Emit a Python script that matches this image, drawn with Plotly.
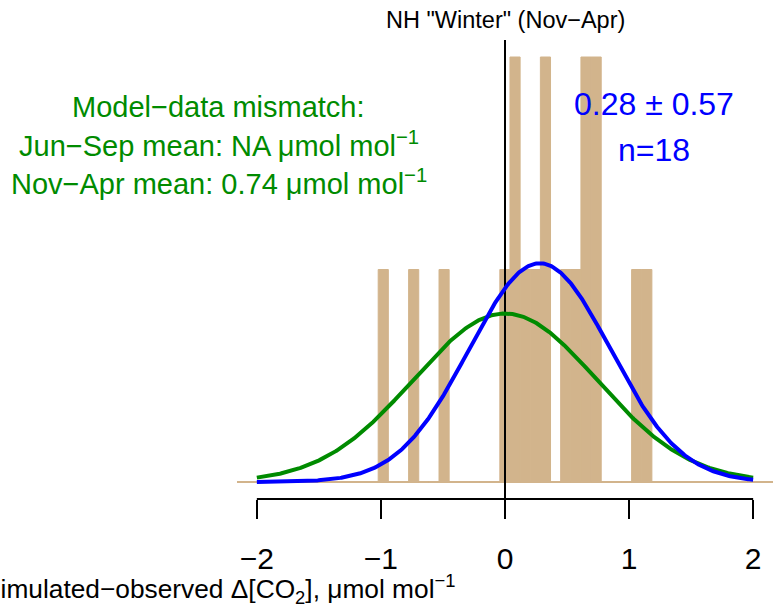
import numpy as np
import plotly.graph_objects as go

# ---------------- data ----------------
bin_start = -1.022          # left edge of first histogram bin
bin_width = 0.0817          # histogram bin width
counts = [1, 0, 0, 1, 0, 0, 1, 0, 0, 0, 0, 0, 1, 2, 1, 1, 2, 0, 1, 1, 2, 2, 0, 0, 0, 1, 1]
n_obs = 18

obs_mean = 0.28             # blue fitted normal
obs_sd = 0.57
mismatch_mean = 0.0         # green model-data mismatch normal
mismatch_sd = 0.74

x_ticks = [-2, -1, 0, 1, 2]

title_text = 'NH "Winter" (Nov\u2212Apr)'
xlab = 'Simulated\u2212observed \u0394[CO<sub>2</sub>], \u03bcmol mol<sup>\u22121</sup>'
green_lines = ['Model\u2212data mismatch:',
               'Jun\u2212Sep mean: NA \u03bcmol mol<sup>\u22121</sup>',
               'Nov\u2212Apr mean: 0.74 \u03bcmol mol<sup>\u22121</sup>']
blue_lines = ['0.28 \u00b1 0.57', 'n=18']

# ---------------- layout constants ----------------
W, H = 773, 607
ML, MR, MT, MB = 237, 0, 40, 108
PW, PH = W - ML - MR, H - MT - MB
FONT = 'Liberation Sans, Arial, sans-serif'
TAN = '#D2B48C'
GREEN = '#008B00'
BLUE = '#0000FF'


def px(xp):
    return (xp - ML) / PW


def py(yp):
    return (H - MB - yp) / PH


# derived
counts = np.array(counts, dtype=float)
centers = bin_start + bin_width * (np.arange(len(counts)) + 0.5)
density = counts / (n_obs * bin_width)
ymax = density.max()
xpad = (max(x_ticks) - min(x_ticks)) * 0.04
ypad = ymax * 0.04

xs = np.linspace(min(x_ticks), max(x_ticks), 500)


def dnorm(x, m, s):
    return np.exp(-0.5 * ((x - m) / s) ** 2) / (s * np.sqrt(2 * np.pi))


fig = go.Figure()
fig.add_trace(go.Bar(x=centers, y=density, width=bin_width,
                     marker=dict(color=TAN, line=dict(color=TAN, width=1)),
                     hoverinfo='skip'))
fig.add_trace(go.Scatter(x=[0, 0], y=[-ypad, ymax + ypad], mode='lines',
                         line=dict(color='black', width=2), hoverinfo='skip'))
fig.add_trace(go.Scatter(x=xs, y=dnorm(xs, mismatch_mean, mismatch_sd), mode='lines',
                         line=dict(color=GREEN, width=4), hoverinfo='skip'))
fig.add_trace(go.Scatter(x=xs, y=dnorm(xs, obs_mean, obs_sd), mode='lines',
                         line=dict(color=BLUE, width=4), hoverinfo='skip'))

shapes = [
    dict(type='line', xref='paper', yref='y', x0=0, x1=1, y0=0, y1=0,
         line=dict(color=TAN, width=2), layer='below'),
    dict(type='line', xref='x', yref='paper', x0=min(x_ticks), x1=max(x_ticks), y0=0, y1=0,
         line=dict(color='black', width=2)),
]

annotations = []
annotations.append(dict(text=title_text, xref='paper', yref='paper', x=px(505.5), y=py(19.5),
                        xanchor='center', yanchor='middle', showarrow=False,
                        font=dict(family=FONT, size=23.5, color='black')))
for t, yy in zip(green_lines, [107, 144, 182]):
    annotations.append(dict(text=t, xref='paper', yref='paper', x=px(218.5), y=py(yy),
                            xanchor='center', yanchor='middle', showarrow=False,
                            font=dict(family=FONT, size=29, color=GREEN)))
for t, yy in zip(blue_lines, [104, 150]):
    annotations.append(dict(text=t, xref='paper', yref='paper', x=px(653.5), y=py(yy),
                            xanchor='center', yanchor='middle', showarrow=False,
                            font=dict(family=FONT, size=32, color=BLUE)))
annotations.append(dict(text=xlab, xref='paper', yref='paper', x=px(457), y=py(589),
                        xanchor='right', yanchor='middle', showarrow=False,
                        font=dict(family=FONT, size=26.3, color='black')))

fig.update_layout(
    width=W, height=H,
    margin=dict(l=ML, r=MR, t=MT, b=MB, pad=0),
    paper_bgcolor='white', plot_bgcolor='white',
    showlegend=False,
    xaxis=dict(range=[min(x_ticks) - xpad, max(x_ticks) + xpad], showgrid=False, zeroline=False,
               showline=False, ticks='outside', ticklen=19, tickwidth=2, tickcolor='black',
               tickvals=x_ticks, tickfont=dict(family=FONT, size=30, color='black'),
               ticklabelstandoff=14, fixedrange=True),
    yaxis=dict(range=[-ypad, ymax + ypad], visible=False, fixedrange=True),
    shapes=shapes,
    annotations=annotations,
)

fig.write_html('out.html', config={'displayModeBar': False},
               post_script="document.body.style.margin='0';document.body.style.overflow='hidden';")
